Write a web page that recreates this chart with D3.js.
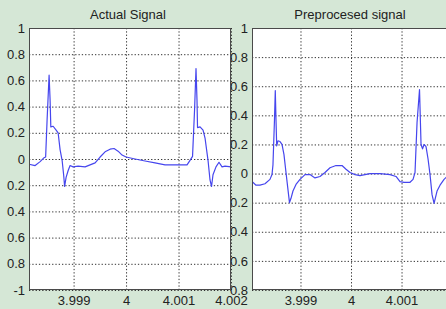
<!DOCTYPE html>
<html>
<head>
<meta charset="utf-8">
<script src="https://cdn.jsdelivr.net/npm/d3@7"></script>
<style>
  body { margin: 0; background: #d5e7d6; }
  svg { display: block; }
</style>
</head>
<body>
<script>
	// chart size
	var w = 446;
	var h = 309;

	// titles
	var titles = ["Actual Signal", "Preprocesed signal"];

	// tick values and labels (as printed in the figure)
	var xTicksLeft = [3.999, 4, 4.001, 4.002];
	var xLabelsLeft = ["3.999", "4", "4.001", "4.002"];
	var xTicksRight = [3.999, 4, 4.001];
	var xLabelsRight = ["3.999", "4", "4.001"];
	var yTicksLeft = [1, 0.8, 0.6, 0.4, 0.2, 0, -0.2, -0.4, -0.6, -0.8, -1];
	var yLabelsLeft = ["1", "0.8", "0.6", "0.4", "0.2", "0", "0.2", "0.4", "0.6", "0.8", "-1"];
	var yTicksRight = [1, 0.8, 0.6, 0.4, 0.2, 0, -0.2, -0.4, -0.6, -0.8];
	var yLabelsRight = ["1", "0.8", "0.6", "0.4", "0.2", "0", "0.2", "0.4", "0.6", "0.8"];

	// actual signal (time in s, amplitude)
	var actualTime = [3.99815, 3.998267, 3.998362, 3.998438, 3.998467, 3.998495, 3.998533, 3.998552,
		3.998566, 3.99861, 3.998667, 3.998705, 3.998743, 3.998781, 3.99881, 3.998829, 3.998857,
		3.998895, 3.998933, 3.99899, 3.999086, 3.999219, 3.999314, 3.99941, 3.999505, 3.9996,
		3.999695, 3.999771, 3.999848, 3.999924, 4.0, 4.000171, 4.000362, 4.000552, 4.000743,
		4.00099, 4.001162, 4.001219, 4.001267, 4.001305, 4.001333, 4.001352, 4.001362, 4.00141,
		4.001467, 4.001505, 4.001562, 4.0016, 4.001629, 4.001657, 4.001714, 4.001771, 4.001829,
		4.001886, 4.002];
	var actualValue = [-0.04, -0.05, -0.02, 0.01, 0.015, 0.3, 0.64, 0.45,
		0.245, 0.25, 0.22, 0.2, 0.07, -0.01, -0.12, -0.21, -0.14,
		-0.09, -0.05, -0.06, -0.055, -0.06, -0.045, -0.03, 0.015, 0.055,
		0.075, 0.08, 0.06, 0.03, 0.015, 0, -0.015, -0.03, -0.045,
		-0.045, -0.045, -0.01, 0.02, 0.37, 0.69, 0.45, 0.24, 0.245,
		0.22, 0.16, -0.01, -0.16, -0.21, -0.12, -0.06, -0.025, -0.06,
		-0.055, -0.06];

	// preprocessed signal
	var prepTime = [3.99804, 3.998119, 3.998198, 3.998297, 3.998396, 3.998436, 3.998455, 3.998485,
		3.998501, 3.998515, 3.998529, 3.998554, 3.998594, 3.998634, 3.998673, 3.998713, 3.998752,
		3.998782, 3.998812, 3.998851, 3.998911, 3.99899, 3.999089, 3.999188, 3.999287, 3.999386,
		3.999485, 3.999584, 3.999703, 3.999822, 3.999901, 3.99998, 4.000079, 4.000178, 4.000376,
		4.000574, 4.000772, 4.000891, 4.00097, 4.00105, 4.001168, 4.001228, 4.001267, 4.001307,
		4.001356, 4.001386, 4.001416, 4.001446, 4.001485, 4.001525, 4.001564, 4.001604, 4.001644,
		4.001703, 4.001762, 4.001842, 4.001921];
	var prepValue = [-0.055, -0.08, -0.08, -0.07, -0.04, -0.007, 0.06, 0.37,
		0.57, 0.37, 0.19, 0.225, 0.22, 0.2, 0.13, 0.007, -0.11,
		-0.2, -0.17, -0.12, -0.075, -0.04, -0.007, -0.007, -0.03, -0.02,
		0.007, 0.04, 0.055, 0.055, 0.03, 0.007, -0.007, -0.014, 0,
		0, -0.007, -0.02, -0.055, -0.06, -0.06, -0.04, 0.007, 0.35,
		0.577, 0.2, 0.17, 0.2, 0.185, 0.1, -0.007, -0.145, -0.205,
		-0.12, -0.08, -0.04, -0.014];

	// plot area top and bottom (shared by both panels)
	var plotTop = 28;
	var plotBottom = 290;

	var svg = d3.select("body")
		.append("svg")
		.attr("width", w)
		.attr("height", h);

	function drawPanel(p) {
		var x = d3.scaleLinear().domain(p.xDomain).range([p.left, p.right]);
		var y = d3.scaleLinear().domain(p.yDomain).range([plotBottom, plotTop]);
		var ph = plotBottom - plotTop;
		var g = svg.append("g");

		g.append("rect")
			.attr("x", p.left).attr("y", plotTop)
			.attr("width", p.right - p.left).attr("height", ph)
			.attr("fill", "#fff");

		// dotted grid
		var gx = g.append("g")
			.attr("transform", "translate(0," + plotBottom + ")")
			.call(d3.axisBottom(x).tickValues(p.xTicks).tickSize(-ph).tickFormat(""));
		var gy = g.append("g")
			.attr("transform", "translate(" + p.left + ",0)")
			.call(d3.axisLeft(y).tickValues(p.yTicks).tickSize(-(p.right - p.left)).tickFormat(""));
		[gx, gy].forEach(function(a) {
			a.select(".domain").remove();
			a.selectAll("line")
				.attr("stroke", "#333")
				.attr("stroke-dasharray", "1.3,2");
		});

		// signal
		g.append("clipPath").attr("id", p.id)
			.append("rect")
			.attr("x", p.left).attr("y", plotTop)
			.attr("width", p.right - p.left).attr("height", ph);
		var line = d3.line()
			.x(function(d) { return x(d[0]); })
			.y(function(d) { return y(d[1]); });
		g.append("path")
			.datum(d3.zip(p.time, p.value))
			.attr("clip-path", "url(#" + p.id + ")")
			.attr("fill", "none")
			.attr("stroke", "#4646ee")
			.attr("stroke-width", 1.2)
			.attr("stroke-linejoin", "round")
			.attr("d", line);

		// box
		g.append("rect")
			.attr("x", p.left + 0.5).attr("y", plotTop + 0.5)
			.attr("width", p.right - p.left - 1).attr("height", ph - 1)
			.attr("fill", "none")
			.attr("stroke", "#4a4a4a");

		// tick labels
		var ax = g.append("g")
			.attr("transform", "translate(0," + plotBottom + ")")
			.call(d3.axisBottom(x).tickValues(p.xTicks).tickSize(0).tickPadding(6)
				.tickFormat(function(d, i) { return p.xLabels[i]; }));
		var ay = g.append("g")
			.attr("transform", "translate(" + p.left + ",0)")
			.call(d3.axisLeft(y).tickValues(p.yTicks).tickSize(0).tickPadding(4)
				.tickFormat(function(d, i) { return p.yLabels[i]; }));
		[ax, ay].forEach(function(a) {
			a.select(".domain").remove();
			a.attr("font-family", "Arial, 'Liberation Sans', sans-serif")
				.attr("font-size", 13);
			a.selectAll("text").attr("fill", "#222");
		});

		g.append("text")
			.attr("x", p.titleX).attr("y", 19)
			.attr("text-anchor", "middle")
			.attr("font-family", "Arial, 'Liberation Sans', sans-serif")
			.attr("font-size", 13)
			.attr("fill", "#222")
			.text(p.title);
	}

	// right panel first, the left one overlaps its labels
	drawPanel({
		id: "clipRight", left: 252, right: 447, titleX: 350,
		xDomain: [3.99804, 4.0019], yDomain: [-0.8, 1],
		xTicks: xTicksRight, xLabels: xLabelsRight,
		yTicks: yTicksRight, yLabels: yLabelsRight,
		time: prepTime, value: prepValue, title: titles[1]
	});
	drawPanel({
		id: "clipLeft", left: 29, right: 231, titleX: 128,
		xDomain: [3.99815, 4.002], yDomain: [-1, 1],
		xTicks: xTicksLeft, xLabels: xLabelsLeft,
		yTicks: yTicksLeft, yLabels: yLabelsLeft,
		time: actualTime, value: actualValue, title: titles[0]
	});
</script>
</body>
</html>
